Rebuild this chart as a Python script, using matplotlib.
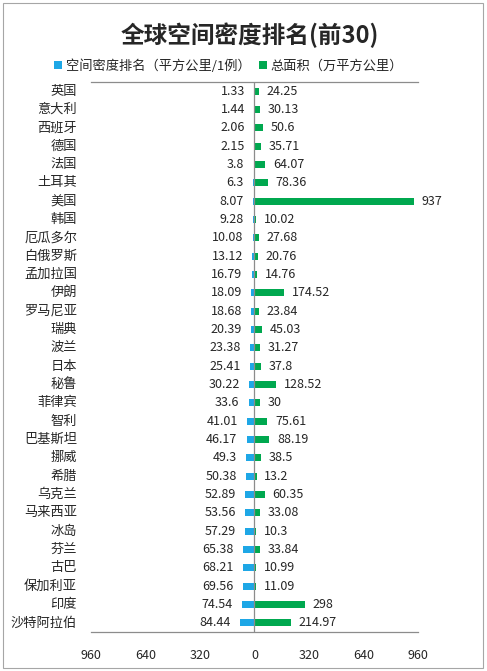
import matplotlib.pyplot as plt
import numpy as np
from matplotlib.patches import Rectangle

plt.rcParams['font.family'] = ['Noto Sans CJK SC', 'DejaVu Sans']

# 数据
countries = ['英国', '意大利', '西班牙', '德国', '法国', '土耳其', '美国', '韩国',
             '厄瓜多尔', '白俄罗斯', '孟加拉国', '伊朗', '罗马尼亚', '瑞典', '波兰',
             '日本', '秘鲁', '菲律宾', '智利', '巴基斯坦', '挪威', '希腊', '乌克兰',
             '马来西亚', '冰岛', '芬兰', '古巴', '保加利亚', '印度', '沙特阿拉伯']
density = [1.33, 1.44, 2.06, 2.15, 3.8, 6.3, 8.07, 9.28, 10.08, 13.12, 16.79,
           18.09, 18.68, 20.39, 23.38, 25.41, 30.22, 33.6, 41.01, 46.17, 49.3,
           50.38, 52.89, 53.56, 57.29, 65.38, 68.21, 69.56, 74.54, 84.44]
area = [24.25, 30.13, 50.6, 35.71, 64.07, 78.36, 937, 10.02, 27.68, 20.76, 14.76,
        174.52, 23.84, 45.03, 31.27, 37.8, 128.52, 30, 75.61, 88.19, 38.5, 13.2,
        60.35, 33.08, 10.3, 33.84, 10.99, 11.09, 298, 214.97]
xticks = [-960, -640, -320, 0, 320, 640, 960]

blue = '#1EA7E6'
green = '#00A84F'

fig = plt.figure(figsize=(4.87, 6.71), dpi=100)
fig.patches.append(Rectangle((3 / 487, 3 / 671), 480 / 487, 665 / 671,
                             transform=fig.transFigure, fill=False,
                             edgecolor='#A6A6A6', linewidth=0.8))

ax = fig.add_axes([0.187, 0.058, 0.671, 0.82])
y = np.arange(len(countries))
ax.barh(y, [-d for d in density], height=0.38, color=blue,
        label='空间密度排名（平方公里/1例）')
ax.barh(y, area, height=0.38, color=green, label='总面积（万平方公里）')

for i in range(len(countries)):
    ax.text(-density[i] - 55, y[i], f'{density[i]:g}', ha='right', va='center',
            fontsize=9, color='#262626')
    ax.text(area[i] + 45, y[i], f'{area[i]:g}', ha='left', va='center',
            fontsize=9, color='#262626')
    ax.text(-1042, y[i], countries[i], ha='right', va='center',
            fontsize=9.5, color='#262626')

ax.set_xlim(-960, 960)
ax.set_ylim(29.5, -0.5)
ax.set_yticks([])
ax.set_xticks(xticks)
ax.set_xticklabels([str(abs(t)) for t in xticks], fontsize=9, color='#262626')
ax.tick_params(axis='x', length=0, pad=12)
ax.axvline(0, color='#8C8C8C', linewidth=0.9)
for s in ['left', 'right']:
    ax.spines[s].set_visible(False)
for s in ['top', 'bottom']:
    ax.spines[s].set_color('#8C8C8C')
    ax.spines[s].set_linewidth(0.9)

fig.text(0.513, 0.948, '全球空间密度排名(前30)', ha='center', va='center',
         fontsize=17, fontweight='bold', color='#262626')
fig.legend(loc='center', bbox_to_anchor=(0.47, 0.902), ncol=2, frameon=False,
           fontsize=9.5, handlelength=0.6, handleheight=0.6, handletextpad=0.3,
           columnspacing=0.6, labelcolor='#262626')

fig.savefig('out.png', dpi=100, facecolor='white')
